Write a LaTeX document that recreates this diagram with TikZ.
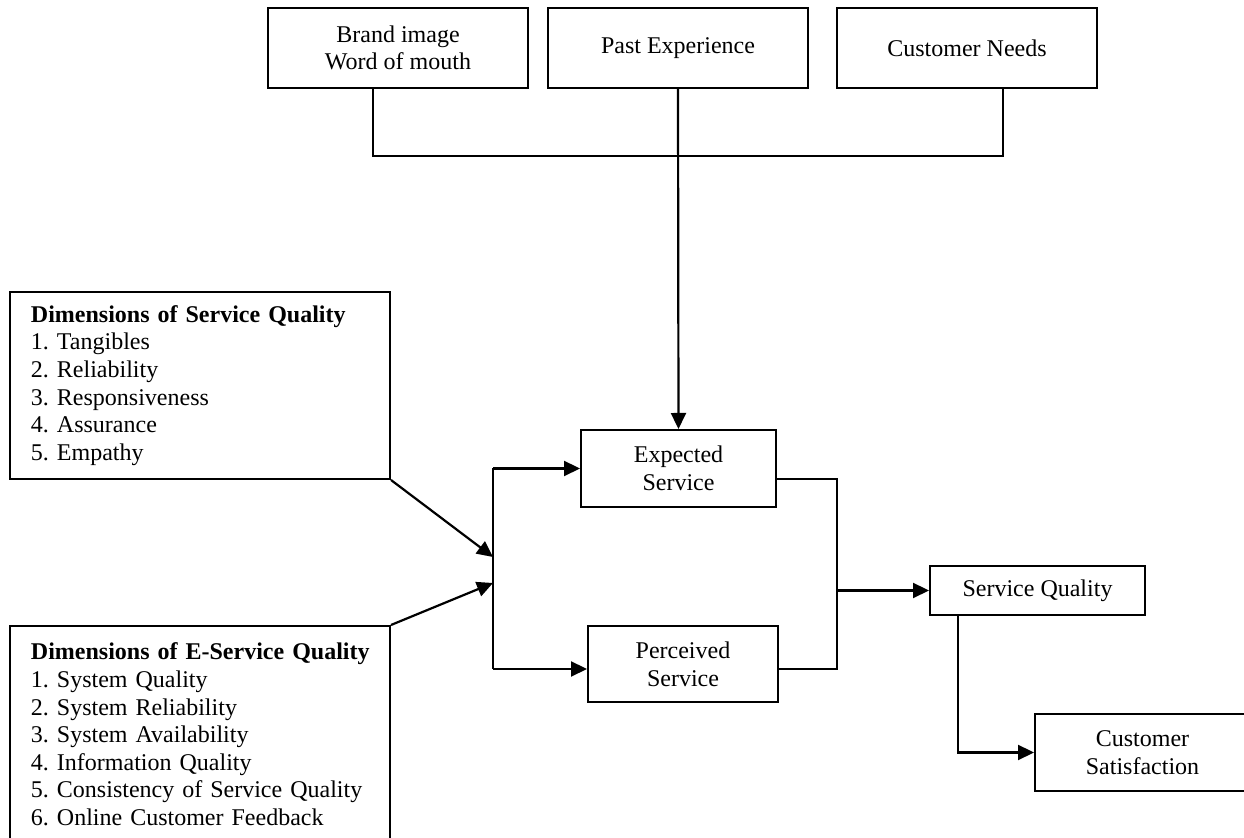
\documentclass[tikz,border=0pt]{standalone}
\usepackage{fontspec}
\setmainfont{Liberation Serif}
\usetikzlibrary{arrows.meta,calc}
\begin{document}
\begin{tikzpicture}[x=0.5pt,y=-0.5pt,
  font=\fontsize{12pt}{13.8pt}\selectfont\frenchspacing,
  box/.style={draw,line width=1pt,align=center,inner sep=0pt},
  listbox/.style={draw,line width=1pt,align=left,inner xsep=10.5pt,inner ysep=0pt,
                  text width=169pt,minimum width=190pt},
  link/.style={line width=1.1pt},
  arr/.style={link,-{Triangle[length=8pt,width=7.5pt]}}]
\clip (0,0) rectangle (1244,838);
\fill[white] (0,0) rectangle (1244,838);

% sources of expectation
\node[box,minimum width=130pt,minimum height=40pt] (brand) at (398,48) {Brand image\\Word of mouth};
\node[box,minimum width=130pt,minimum height=40pt] (past) at (678,48) {Past Experience};
\node[box,minimum width=130pt,minimum height=40pt] (needs) at (967,48) {Customer Needs};

% service gap
\node[box,minimum width=97.5pt,minimum height=38.5pt] (expected) at (678.5,468.5) {Expected\\Service};
\node[box,minimum width=95pt,minimum height=38pt] (perceived) at (683,664) {Perceived\\Service};
\node[box,minimum width=107.5pt,minimum height=24.5pt] (sq) at (1037.5,590.5) {Service Quality};
\node[box,minimum width=107.5pt,minimum height=38.5pt] (cs) at (1142.5,752.5) {Customer\\Satisfaction};

% dimensions
\node[listbox,minimum height=93.5pt] (dsq) at (200,385.5)
  {\mbox{\textbf{Dimensions of Service Quality}}\\
   1. Tangibles\\
   2. Reliability\\
   3. Responsiveness\\
   4. Assurance\\
   5. Empathy};
\node[listbox,minimum height=108.5pt] (desq) at (200,734.5)
  {\mbox{\textbf{Dimensions of E-Service Quality}}\\
   1. System Quality\\
   2. System Reliability\\
   3. System Availability\\
   4. Information Quality\\
   5. Consistency of Service Quality\\
   6. Online Customer Feedback};

% top collector
\coordinate (hub) at (678,156);
\draw[link] ($(brand.south)+(-25,0)$) |- (hub) -| ($(needs.south)+(36,0)$);
\draw[arr] (past.south) -- (expected.north);

% left bus
\coordinate (busTop) at (493,468.5);
\coordinate (busBot) at (493,669);
\coordinate (in1) at (493,557);
\coordinate (in2) at (493,583);
\draw[link] (busTop) -- (busBot);
\draw[arr] (busTop) -- (expected.west);
\draw[arr] (busBot) -- (busBot -| perceived.west);
\draw[arr] (dsq.south east) -- (in1);
\draw[arr] (desq.north east) -- (in2);

% right bus
\coordinate (rbus) at (837,590.5);
\draw[link] ($(expected.east)+(0,10.5)$) -| (rbus) |- (perceived.east |- busBot);
\draw[arr] (rbus) -- (sq.west);
\draw[arr] ($(sq.south west)+(29,0)$) |- (cs.west);
\end{tikzpicture}
\end{document}
